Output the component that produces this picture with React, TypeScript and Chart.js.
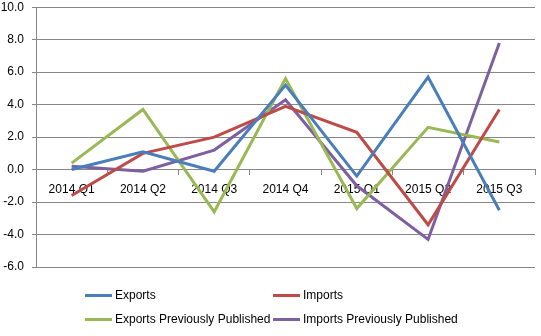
import React, { useEffect, useRef } from "react";
import { Chart, registerables } from "chart.js";

Chart.register(...registerables);

const categories = ["2014 Q1", "2014 Q2", "2014 Q3", "2014 Q4", "2015 Q1", "2015 Q2", "2015 Q3"];
const exportsVals = [0.0, 1.1, -0.1, 5.2, -0.4, 5.7, -2.5];
const importsVals = [-1.6, 1.0, 2.0, 3.9, 2.3, -3.4, 3.7];
const exportsPrevVals = [0.4, 3.7, -2.6, 5.6, -2.4, 2.6, 1.7];
const importsPrevVals = [0.2, -0.1, 1.2, 4.3, -1.0, -4.3, 7.8];
const seriesNames = ["Exports", "Imports", "Exports Previously Published", "Imports Previously Published"];
const seriesColors = ["#4A7EBB", "#BE4B48", "#98B954", "#7D60A0"];

const FONT = "'Liberation Sans', Arial, sans-serif";

export default function App() {
  const ref = useRef<HTMLCanvasElement | null>(null);

  useEffect(() => {
    document.body.style.margin = "0";
    const values = [exportsVals, importsVals, exportsPrevVals, importsPrevVals];
    const chart = new Chart(ref.current as HTMLCanvasElement, {
      type: "line",
      data: {
        labels: categories,
        datasets: seriesNames.map((name, i) => ({
          label: name,
          data: values[i],
          borderColor: seriesColors[i],
          backgroundColor: seriesColors[i],
          borderWidth: 3,
          pointRadius: 0,
          tension: 0,
          fill: false,
        })),
      },
      options: {
        animation: false,
        responsive: false,
        devicePixelRatio: 1,
        layout: { padding: { top: 0, right: 6, bottom: 69, left: 0 } },
        plugins: { legend: { display: false }, tooltip: { enabled: false } },
        font: { family: FONT, size: 12 },
        scales: {
          x: {
            type: "category",
            position: { y: 0 } as any,
            offset: true,
            z: 1,
            grid: {
              display: true,
              drawOnChartArea: false,
              offset: true,
              tickLength: 5,
              color: "#868686",
            },
            border: { display: true, color: "#868686", width: 1 },
            ticks: {
              color: "#000",
              font: { family: FONT, size: 12 },
              padding: 8,
              maxRotation: 0,
              autoSkip: false,
            },
          },
          y: {
            min: -6,
            max: 10,
            afterFit: (scale: any) => {
              scale.width = 36;
            },
            grid: { color: "#868686", tickLength: 4, lineWidth: 1 },
            border: { display: true, color: "#868686" },
            ticks: {
              stepSize: 2,
              color: "#000",
              font: { family: FONT, size: 12 },
              padding: 8,
              callback: (v: any) => Number(v).toFixed(1),
            },
          },
        },
      },
    });
    return () => chart.destroy();
  }, []);

  const legendPos = [
    { left: 85, top: 295 },
    { left: 273, top: 295 },
    { left: 85, top: 319 },
    { left: 273, top: 319 },
  ];

  return (
    <div style={{ position: "relative", width: 541, height: 336, background: "#fff", overflow: "hidden" }}>
      <canvas
        ref={ref}
        width={541}
        height={344}
        style={{ position: "absolute", left: 0, top: -8, width: 541, height: 344, display: "block" }}
      />
      {seriesNames.map((name, i) => (
        <div
          key={name}
          style={{
            position: "absolute",
            left: legendPos[i].left,
            top: legendPos[i].top - 8,
            height: 16,
            display: "flex",
            alignItems: "center",
            fontFamily: FONT,
            fontSize: 12,
            color: "#000",
            whiteSpace: "nowrap",
          }}
        >
          <span style={{ display: "inline-block", width: 27, height: 3, background: seriesColors[i], marginRight: 3 }} />
          <span>{name}</span>
        </div>
      ))}
    </div>
  );
}
